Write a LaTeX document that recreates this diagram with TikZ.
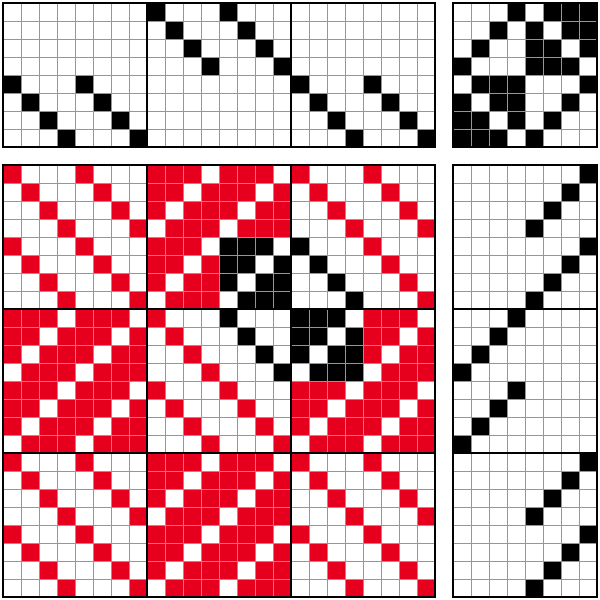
\documentclass[tikz,border=0pt]{standalone}
\usepackage{tikz}
\definecolor{weftred}{RGB}{230,0,30}
\definecolor{gridgrey}{RGB}{150,150,150}

\begin{document}
\begin{tikzpicture}[x=0.5cm,y=-0.5cm,
            gridline/.style={draw=gridgrey,line width=0.6pt},
            frameline/.style={draw=black,line width=1pt},
            cellblack/.style={fill=black}]
            \useasboundingbox (-1/6,-1/6) rectangle (33+1/6,33+1/6);

            % Threading (shaft of each warp end)
            \foreach \s [count=\c from 0] in {4,5,6,7,4,5,6,7,0,1,2,3,0,1,2,3,4,5,6,7,4,5,6,7}
                \fill[cellblack] (\c,\s) rectangle ++(1,1);

            % Tie-up (shaft / treadle)
            \foreach \s/\t in {0/3,0/5,0/6,0/7, 1/2,1/4,1/6,1/7, 2/1,2/4,2/5,2/7, 3/0,3/4,3/5,3/6,
                               4/1,4/2,4/3,4/7, 5/0,5/2,5/3,5/6, 6/0,6/1,6/3,6/5, 7/0,7/1,7/2,7/4}
                \fill[cellblack] (25+\t,\s) rectangle ++(1,1);

            % Treadling (treadle of each pick)
            \foreach \t [count=\r from 0] in {7,6,5,4,7,6,5,4,3,2,1,0,3,2,1,0,7,6,5,4,7,6,5,4}
                \fill[cellblack] (25+\t,9+\r) rectangle ++(1,1);

            % Drawdown
            \foreach \s [count=\c from 0] in {4,5,6,7,4,5,6,7,0,1,2,3,0,1,2,3,4,5,6,7,4,5,6,7}{
                \foreach \t [count=\r from 0] in {7,6,5,4,7,6,5,4,3,2,1,0,3,2,1,0,7,6,5,4,7,6,5,4}{
                    \pgfmathtruncatemacro{\up}{{0,0,0,1,0,1,1,1, 0,0,1,0,1,0,1,1, 0,1,0,0,1,1,0,1, 1,0,0,0,1,1,1,0,
                                                0,1,1,1,0,0,0,1, 1,0,1,1,0,0,1,0, 1,1,0,1,0,1,0,0, 1,1,1,0,1,0,0,0}[\s*8+\t]}
                    \pgfmathtruncatemacro{\inblk}{and(and(\c>11,\c<20),and(\r>3,\r<12))}
                    \ifnum\up=1
                        \ifnum\inblk=1 \def\cellcol{black}\else\def\cellcol{weftred}\fi
                        \fill[\cellcol] (\c,9+\r) rectangle ++(1,1);
                    \fi
                }
            }

            % Grid lines
            \foreach \i in {0,...,24}{
                \draw[gridline] (\i,0) -- (\i,8);
                \draw[gridline] (\i,9) -- (\i,33);
                \draw[gridline] (0,9+\i) -- (24,9+\i);
                \draw[gridline] (25,9+\i) -- (33,9+\i);
            }
            \foreach \i in {0,...,8}{
                \draw[gridline] (0,\i) -- (24,\i);
                \draw[gridline] (25+\i,0) -- (25+\i,8);
                \draw[gridline] (25,\i) -- (33,\i);
                \draw[gridline] (25+\i,9) -- (25+\i,33);
            }

            % Frames
            \draw[frameline] (0,0) rectangle (24,8);
            \draw[frameline] (25,0) rectangle (33,8);
            \draw[frameline] (0,9) rectangle (24,33);
            \draw[frameline] (25,9) rectangle (33,33);
            \foreach \k in {8,16}{
                \draw[frameline] (\k,0) -- (\k,8);
                \draw[frameline] (\k,9) -- (\k,33);
                \draw[frameline] (0,9+\k) -- (24,9+\k);
                \draw[frameline] (25,9+\k) -- (33,9+\k);
            }

        \end{tikzpicture}
\end{document}
